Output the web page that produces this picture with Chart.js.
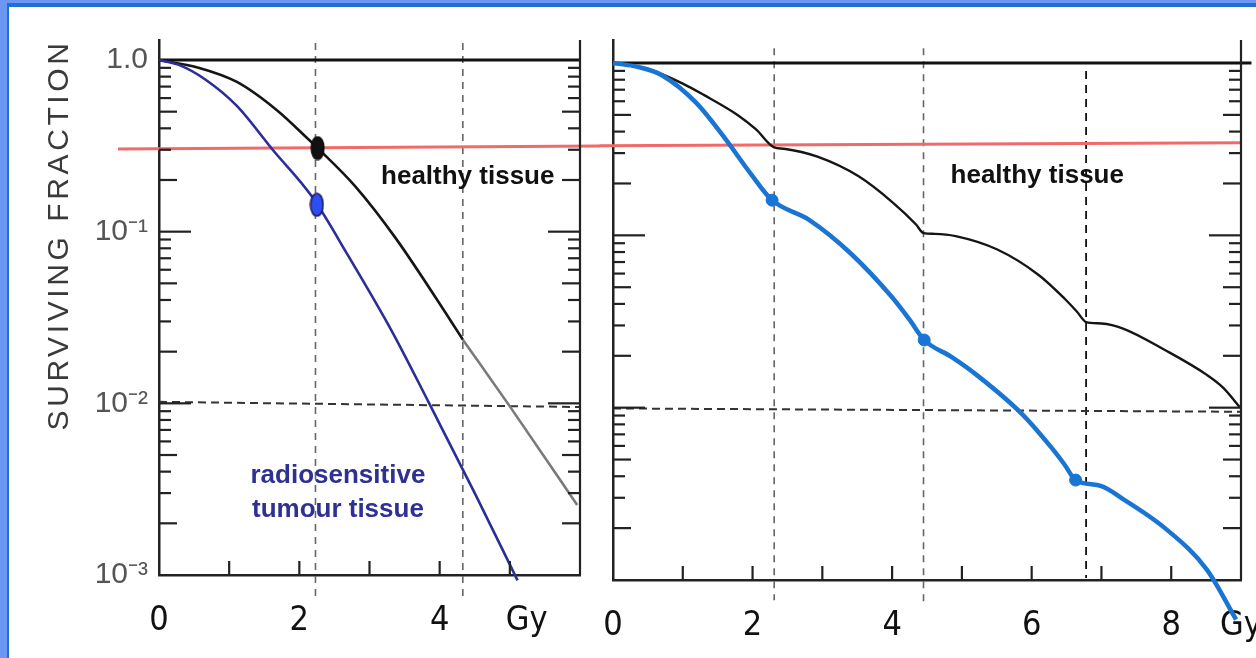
<!DOCTYPE html>
<html>
<head>
<meta charset="utf-8">
<script src="https://cdn.jsdelivr.net/npm/chart.js@4.4.1/dist/chart.umd.min.js"></script>
<style>
html,body{margin:0;padding:0;background:#fff;}
#page{position:relative;width:1256px;height:658px;overflow:hidden;background:#fff;}
#c1{position:absolute;left:0;top:0;}
#c2{position:absolute;left:596px;top:0;}
.b{position:absolute;z-index:5;}
#bl{left:0;top:0;width:7px;height:658px;background:#6b97f2;}
#bl2{left:7px;top:3px;width:2px;height:655px;background:#1e6fd8;}
#bt{left:0;top:0;width:1256px;height:3px;background:#6b97f2;}
#bt2{left:7px;top:3px;width:1249px;height:4px;background:#1e6fd8;}
</style>
</head>
<body>
<div id="page">
  <canvas id="c1" width="600" height="658"></canvas>
  <canvas id="c2" width="660" height="658"></canvas>
  <div class="b" id="bl"></div><div class="b" id="bl2"></div>
  <div class="b" id="bt"></div><div class="b" id="bt2"></div>
</div>
<script>
// ---------- data ----------
const yTitle = 'SURVIVING FRACTION';
const yTickValues = [1, 0.1, 0.01, 0.001];
const yTickLabels = ['1.0', '10\u207B\u00B9', '10\u207B\u00B2', '10\u207B\u00B3'];

const leftXTickValues = [0, 2, 4, 5.24];
const leftXTickLabels = ['0', '2', '4', 'Gy'];
const rightXTickValues = [0, 2, 4, 6, 8, 9];
const rightXTickLabels = ['0', '2', '4', '6', '8', 'Gy'];
const leftMinorX = [1, 2, 3, 4, 5];
const rightMinorX = [1, 2, 3, 4, 5, 6, 7, 8];

// left panel: single dose
const leftHealthyDose = [0, 0.55, 1.11, 1.68, 2.13, 2.26, 2.80, 3.37, 4.15, 4.33];
const leftHealthySF   = [1.0, 0.905, 0.745, 0.51, 0.345, 0.307, 0.183, 0.092, 0.0306, 0.0235];
const leftTailDose = [4.33, 5.0, 5.96];
const leftTailSF   = [0.0235, 0.0096, 0.00256];
const leftTumourDose = [0, 0.3, 0.66, 1.11, 1.62, 2.18, 2.7, 3.31, 3.84, 4.5, 5.11];
const leftTumourSF   = [1.0, 0.93, 0.77, 0.54, 0.30, 0.16, 0.072, 0.0267, 0.0102, 0.0030, 0.00093];
const leftHealthyMark = [2.26, 0.307];
const leftTumourMark  = [2.25, 0.1435];
const leftFractionDose = [2.23, 4.33];

// right panel: fractionated
const rightHealthyDose = [0, 0.5, 1.0, 1.3, 1.8, 2.05, 2.31, 2.45, 2.93, 3.52, 4.01, 4.34, 4.45, 4.61, 4.91, 5.5, 6.1, 6.47, 6.65, 6.78, 7.0, 7.31, 7.91, 8.51, 8.75, 8.98];
const rightHealthySF   = [1.0, 0.923, 0.759, 0.653, 0.495, 0.412, 0.324, 0.318, 0.286, 0.22, 0.155, 0.116, 0.103, 0.102, 0.099, 0.083, 0.0589, 0.043, 0.036, 0.0314, 0.0308, 0.0288, 0.0216, 0.0155, 0.0130, 0.0101];
const rightTumourDose = [0, 0.35, 0.7, 1.19, 1.61, 1.97, 2.28, 2.81, 3.4, 4.0, 4.25, 4.46, 4.85, 5.21, 5.87, 6.29, 6.47, 6.63, 7.0, 7.31, 7.91, 8.51, 8.93];
const rightTumourSF   = [1.0, 0.95, 0.85, 0.589, 0.363, 0.229, 0.16, 0.123, 0.079, 0.0437, 0.0324, 0.0247, 0.0197, 0.0155, 0.00912, 0.00582, 0.00468, 0.0038, 0.00351, 0.00295, 0.0020, 0.00115, 0.00059];
const rightMarkDose = [2.28, 4.46, 6.63];
const rightMarkSF   = [0.16, 0.0247, 0.0038];
const rightEndDose = [8.93];
const rightEndSF   = [0.00059];
const rightFractionDose = [2.31, 4.45, 6.78];

// reference levels
const redLevelLeft  = [0.303, 0.316];
const redLevelRight = [0.331, 0.345];
const dashLevelLeft  = [0.0102, 0.00952];
const dashLevelRight = [0.0099, 0.00947];

// ---------- helpers ----------
const pts = (xs, ys) => xs.map((x, i) => ({x: x, y: ys[i]}));
function ellipse(fill, stroke, w, h) {
  const c = document.createElement('canvas');
  c.width = w; c.height = h;
  const g = c.getContext('2d');
  g.beginPath();
  g.ellipse(w / 2, h / 2, w / 2 - 1.2, h / 2 - 1.2, 0, 0, Math.PI * 2);
  g.fillStyle = fill; g.fill();
  g.lineWidth = 1.6; g.strokeStyle = stroke; g.stroke();
  return c;
}
const FONT = "'Liberation Sans', Arial, sans-serif";
const NARROW = "'Liberation Sans Narrow', 'DejaVu Sans Condensed', 'Liberation Sans', Arial, sans-serif";

function framePlugin(minorX, opts) {
  return {
    id: 'frame',
    afterDraw(chart) {
      const {ctx, chartArea: a, scales: {x, y}} = chart;
      ctx.save();
      ctx.strokeStyle = '#222';
      ctx.lineWidth = 2.2;
      const ln = (x1, y1, x2, y2) => { ctx.beginPath(); ctx.moveTo(x1, y1); ctx.lineTo(x2, y2); ctx.stroke(); };
      ln(a.right, a.top, a.right, a.bottom);
      for (let e = -3; e <= 0; e++) {
        for (let m = 1; m <= 9; m++) {
          const v = m * Math.pow(10, e);
          if (v <= y.min * 1.0001 || v >= 0.999) continue;
          const p = y.getPixelForValue(v);
          const len = m === 1 ? 32 : (m === 2 || m === 5) ? 18 : 12;
          ln(a.left, p, a.left + len, p);
          ln(a.right, p, a.right - len, p);
        }
      }
      minorX.forEach(v => { const p = x.getPixelForValue(v); ln(p, a.bottom, p, a.bottom - 14); });
      ctx.restore();
    },
    afterDatasetsDraw(chart) {
      const {ctx, scales: {x, y}} = chart;
      opts.notes.forEach(it => {
        ctx.save();
        ctx.font = it.font; ctx.fillStyle = it.color;
        ctx.textAlign = 'center'; ctx.textBaseline = 'alphabetic';
        ctx.fillText(it.text, x.getPixelForValue(it.x), y.getPixelForValue(it.y));
        ctx.restore();
      });
      if (opts.title) {
        ctx.save();
        ctx.translate(opts.title.px, opts.title.py);
        ctx.rotate(-Math.PI / 2);
        ctx.font = '30px ' + FONT;
        ctx.fillStyle = '#3a3a3a';
        try { ctx.letterSpacing = '3.6px'; } catch (e) {}
        ctx.textAlign = 'center'; ctx.textBaseline = 'alphabetic';
        ctx.fillText(opts.title.text, 0, 0);
        ctx.restore();
      }
    }
  };
}

const curve = (label, data, color, width) => ({
  label, data, borderColor: color, borderWidth: width, pointRadius: 0,
  cubicInterpolationMode: 'monotone', clip: false, fill: false
});
const straight = (label, data, color, width, dash) => ({
  label, data, borderColor: color, borderWidth: width, pointRadius: 0,
  tension: 0, clip: false, fill: false, borderDash: dash || []
});

function scalesFor(xMax, xTicks, xLabels, yMax, xHeight, yWidth, showY) {
  return {
    x: {
      type: 'linear', min: 0, max: xMax, position: 'bottom',
      afterBuildTicks: s => { s.ticks = xTicks.map(v => ({value: v})); },
      afterFit: s => { s.height = xHeight; s.paddingLeft = 0; s.paddingRight = 0; },
      ticks: { callback: (v, i) => xLabels[i], font: {family: NARROW, size: 34}, color: '#111', padding: 26, maxRotation: 0, autoSkip: false },
      grid: { display: false, drawTicks: false },
      border: { display: true, color: '#222', width: 2.5 }
    },
    y: {
      type: 'logarithmic', min: 0.001, max: yMax, position: 'left',
      afterBuildTicks: s => { s.ticks = yTickValues.map(v => ({value: v})); },
      afterFit: s => { s.width = yWidth; s.paddingTop = 0; s.paddingBottom = 0; },
      ticks: { display: showY, callback: (v, i) => yTickLabels[i], font: {family: FONT, size: 30}, color: '#555', padding: 11, autoSkip: false },
      grid: { display: false, drawTicks: false },
      border: { display: true, color: '#222', width: 2.5 }
    }
  };
}

const common = {
  responsive: false, animation: false, events: [],
  plugins: { legend: { display: false }, tooltip: { enabled: false } }
};

// ---------- left chart ----------
const leftDatasets = [
  { label: 'healthy marker', data: pts([leftHealthyMark[0]], [leftHealthyMark[1]]), pointStyle: ellipse('#111', '#111', 15, 25), pointRadius: 7, showLine: false, clip: false },
  { label: 'tumour marker', data: pts([leftTumourMark[0]], [leftTumourMark[1]]), pointStyle: ellipse('#2f4ef2', '#1d1d6b', 15, 25), pointRadius: 7, showLine: false, clip: false },
  curve('radiosensitive tumour tissue', pts(leftTumourDose, leftTumourSF), '#2b2d98', 2.6),
  curve('healthy tissue', pts(leftHealthyDose, leftHealthySF), '#151515', 2.6),
  curve('healthy tissue (tail)', pts(leftTailDose, leftTailSF), '#7a7a7a', 2.6),
  straight('reference level', pts([-0.584, 6.3], redLevelLeft), '#f06a6a', 3),
  straight('SF = 1', pts([0, 6], [1, 1]), '#111', 3),
  straight('1% level', pts([0, 6], dashLevelLeft), '#333', 2, [8, 5]),
  ...leftFractionDose.map(d => straight('fraction ' + d, pts([d, d], [1.256, 0.000715]), '#666', 1.6, [7, 6]))
];
new Chart(document.getElementById('c1'), {
  type: 'line',
  data: { datasets: leftDatasets },
  options: Object.assign({}, common, {
    layout: { padding: { top: 40, right: 20, left: 0, bottom: 0 } },
    scales: scalesFor(6, leftXTickValues, leftXTickLabels, 1.3076, 83, 159, true)
  }),
  plugins: [framePlugin(leftMinorX, {
    notes: [
      { text: 'healthy tissue', x: 4.40, y: 0.189, font: 'bold 26px ' + FONT, color: '#111' },
      { text: 'radiosensitive', x: 2.55, y: 0.00343, font: 'bold 26px ' + FONT, color: '#2e3192' },
      { text: 'tumour tissue', x: 2.55, y: 0.00218, font: 'bold 26px ' + FONT, color: '#2e3192' }
    ],
    title: { text: yTitle, px: 68, py: 235 }
  })]
});

// ---------- right chart ----------
const rightDatasets = [
  { label: 'fraction markers', data: pts(rightMarkDose, rightMarkSF), pointStyle: 'circle', pointRadius: 6, pointBackgroundColor: '#1a74d4', pointBorderColor: '#1a74d4', showLine: false, clip: false },
  { label: 'end', data: pts(rightEndDose, rightEndSF), pointStyle: 'triangle', pointRadius: 8, rotation: 150, pointBackgroundColor: '#1a74d4', pointBorderColor: '#1a74d4', showLine: false, clip: false },
  curve('tumour (fractionated)', pts(rightTumourDose, rightTumourSF), '#1a74d4', 4.5),
  curve('healthy tissue (fractionated)', pts(rightHealthyDose, rightHealthySF), '#151515', 2.4),
  straight('reference level', pts([-0.19, 9], redLevelRight), '#f06a6a', 3),
  straight('SF = 1', pts([0, 9.15], [1, 1]), '#111', 3),
  straight('1% level', pts([0, 9], dashLevelRight), '#333', 2, [8, 5]),
  straight('fraction 1', pts([rightFractionDose[0], rightFractionDose[0]], [1.22, 0.000764]), '#666', 1.6, [7, 6]),
  straight('fraction 2', pts([rightFractionDose[1], rightFractionDose[1]], [1.22, 0.000697]), '#666', 1.6, [7, 6]),
  straight('fraction 3', pts([rightFractionDose[2], rightFractionDose[2]], [0.899, 0.001026]), '#111', 1.8, [8, 6])
];
new Chart(document.getElementById('c2'), {
  type: 'line',
  data: { datasets: rightDatasets },
  options: Object.assign({}, common, {
    layout: { padding: { top: 40, right: 15, left: 0, bottom: 0 } },
    scales: scalesFor(9, rightXTickValues, rightXTickLabels, 1.36, 78, 17, false)
  }),
  plugins: [framePlugin(rightMinorX, {
    notes: [
      { text: 'healthy tissue', x: 6.08, y: 0.201, font: 'bold 26px ' + FONT, color: '#111' }
    ],
    title: null
  })]
});
</script>
</body>
</html>
